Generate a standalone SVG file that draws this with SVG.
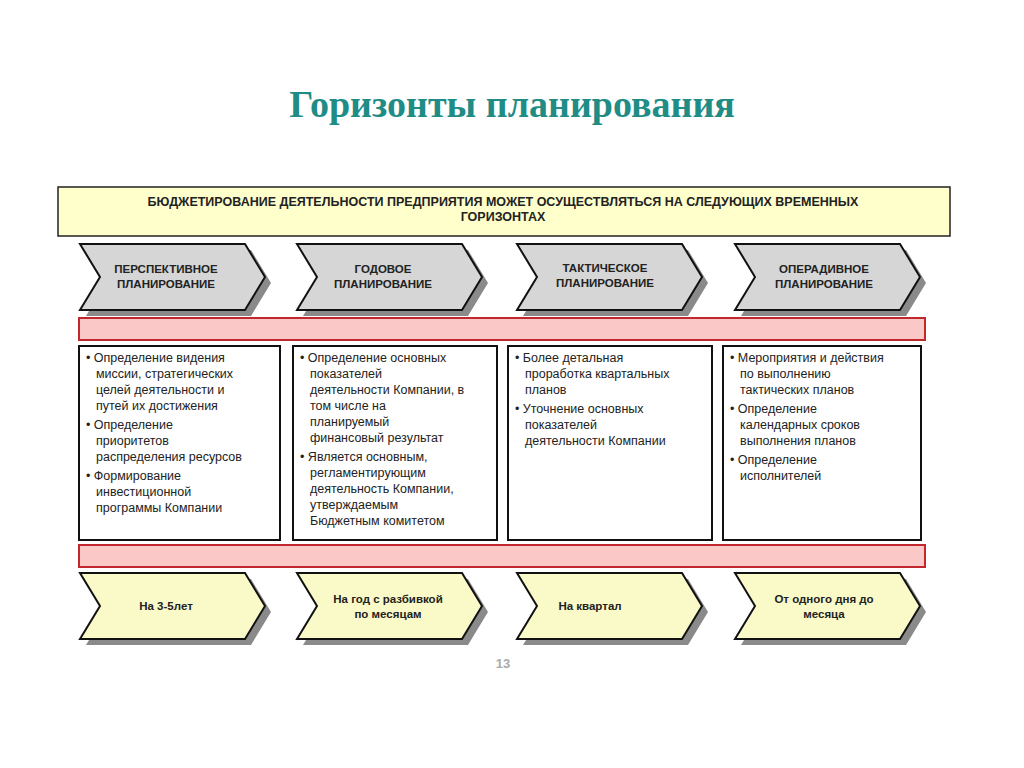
<svg xmlns="http://www.w3.org/2000/svg" width="1024" height="768" viewBox="0 0 1024 768">
<style>
.t{font-family:"Liberation Sans",Arial,sans-serif;font-weight:bold;fill:#222;text-anchor:middle}
.b{font-family:"Liberation Sans",Arial,sans-serif;font-size:12.5px;fill:#222}
.sh{fill:#8a8a8a}
.cg{fill:#d6d6d6;stroke:#111;stroke-width:2}
.cy{fill:#fafac8;stroke:#111;stroke-width:2}
.pk{fill:#fbc8c8;stroke:#c0282d;stroke-width:2}
.bx{fill:#fff;stroke:#111;stroke-width:2}
</style>
<defs>
<path id="chev" d="M0,0 H165 L185,33 L165,66 H0 L20,33 Z"/>
</defs>
<rect width="1024" height="768" fill="#fff"/>
<text x="512" y="117" text-anchor="middle" font-family="Liberation Serif,serif" font-weight="bold" font-size="38" fill="#1f8c86">Горизонты планирования</text>
<g id="header">
<rect x="58" y="187" width="892" height="49" fill="#ffffcc" stroke="#222" stroke-width="1.5"/>
<text class="t" font-size="12.5" x="503" y="206">БЮДЖЕТИРОВАНИЕ ДЕЯТЕЛЬНОСТИ ПРЕДПРИЯТИЯ  МОЖЕТ ОСУЩЕСТВЛЯТЬСЯ НА СЛЕДУЮЩИХ ВРЕМЕННЫХ</text>
<text class="t" font-size="12.5" x="503" y="221">ГОРИЗОНТАХ</text>
</g>
<g id="bars">
<rect class="pk" x="79" y="318" width="846" height="22"/>
<rect class="pk" x="79" y="545" width="846" height="22"/>
</g>
<g id="top-chevrons">
<g id="c1"><use href="#chev" class="sh" x="86" y="250"/><use href="#chev" class="cg" x="80" y="244"/>
<text class="t" font-size="11.5" x="166" y="273">ПЕРСПЕКТИВНОЕ</text><text class="t" font-size="11.5" x="166" y="288">ПЛАНИРОВАНИЕ</text></g>
<g id="c2"><use href="#chev" class="sh" x="303" y="250"/><use href="#chev" class="cg" x="297" y="244"/>
<text class="t" font-size="11.5" x="383" y="273">ГОДОВОЕ</text><text class="t" font-size="11.5" x="383" y="288">ПЛАНИРОВАНИЕ</text></g>
<g id="c3"><use href="#chev" class="sh" x="523" y="250"/><use href="#chev" class="cg" x="517" y="244"/>
<text class="t" font-size="11.5" x="605" y="272">ТАКТИЧЕСКОЕ</text><text class="t" font-size="11.5" x="605" y="287">ПЛАНИРОВАНИЕ</text></g>
<g id="c4"><use href="#chev" class="sh" x="741" y="250"/><use href="#chev" class="cg" x="735" y="244"/>
<text class="t" font-size="11.5" x="824" y="273">ОПЕРАДИВНОЕ</text><text class="t" font-size="11.5" x="824" y="288">ПЛАНИРОВАНИЕ</text></g>
</g>
<g id="boxes">
<g id="b1"><rect class="bx" x="79" y="346" width="201" height="194"/>
<text class="b" x="86" y="362">• Определение видения</text>
<text class="b" x="96" y="378">миссии, стратегических</text>
<text class="b" x="96" y="394">целей деятельности и</text>
<text class="b" x="96" y="410">путей их достижения</text>
<text class="b" x="86" y="429">• Определение</text>
<text class="b" x="96" y="445">приоритетов</text>
<text class="b" x="96" y="461">распределения ресурсов</text>
<text class="b" x="86" y="480">• Формирование</text>
<text class="b" x="96" y="496">инвестиционной</text>
<text class="b" x="96" y="512">программы Компании</text></g>
<g id="b2"><rect class="bx" x="293" y="346" width="204" height="194"/>
<text class="b" x="300" y="362">• Определение основных</text>
<text class="b" x="310" y="378">показателей</text>
<text class="b" x="310" y="394">деятельности Компании, в</text>
<text class="b" x="310" y="410">том числе на</text>
<text class="b" x="310" y="426">планируемый</text>
<text class="b" x="310" y="442">финансовый результат</text>
<text class="b" x="300" y="461">• Является основным,</text>
<text class="b" x="310" y="477">регламентирующим</text>
<text class="b" x="310" y="493">деятельность Компании,</text>
<text class="b" x="310" y="509">утверждаемым</text>
<text class="b" x="310" y="525">Бюджетным комитетом</text></g>
<g id="b3"><rect class="bx" x="508" y="346" width="204" height="194"/>
<text class="b" x="515" y="362">• Более детальная</text>
<text class="b" x="525" y="378">проработка квартальных</text>
<text class="b" x="525" y="394">планов</text>
<text class="b" x="515" y="413">• Уточнение основных</text>
<text class="b" x="525" y="429">показателей</text>
<text class="b" x="525" y="445">деятельности Компании</text></g>
<g id="b4"><rect class="bx" x="723" y="346" width="198" height="194"/>
<text class="b" x="730" y="362">• Мероприятия и действия</text>
<text class="b" x="740" y="378">по выполнению</text>
<text class="b" x="740" y="394">тактических планов</text>
<text class="b" x="730" y="413">• Определение</text>
<text class="b" x="740" y="429">календарных сроков</text>
<text class="b" x="740" y="445">выполнения планов</text>
<text class="b" x="730" y="464">• Определение</text>
<text class="b" x="740" y="480">исполнителей</text></g>
</g>
<g id="bottom-chevrons">
<g id="d1"><use href="#chev" class="sh" x="86" y="579"/><use href="#chev" class="cy" x="80" y="573"/>
<text class="t" font-size="11.5" x="166" y="610">На 3-5лет</text></g>
<g id="d2"><use href="#chev" class="sh" x="303" y="579"/><use href="#chev" class="cy" x="297" y="573"/>
<text class="t" font-size="11.5" x="388" y="603">На год с разбивкой</text><text class="t" font-size="11.5" x="388" y="618">по месяцам</text></g>
<g id="d3"><use href="#chev" class="sh" x="523" y="579"/><use href="#chev" class="cy" x="517" y="573"/>
<text class="t" font-size="11.5" x="590" y="610">На квартал</text></g>
<g id="d4"><use href="#chev" class="sh" x="741" y="579"/><use href="#chev" class="cy" x="735" y="573"/>
<text class="t" font-size="11.5" x="824" y="603">От одного дня до</text><text class="t" font-size="11.5" x="824" y="618">месяца</text></g>
</g>
<text x="503" y="668" text-anchor="middle" font-family="Liberation Sans,sans-serif" font-weight="bold" font-size="13" fill="#aaa">13</text>
</svg>
